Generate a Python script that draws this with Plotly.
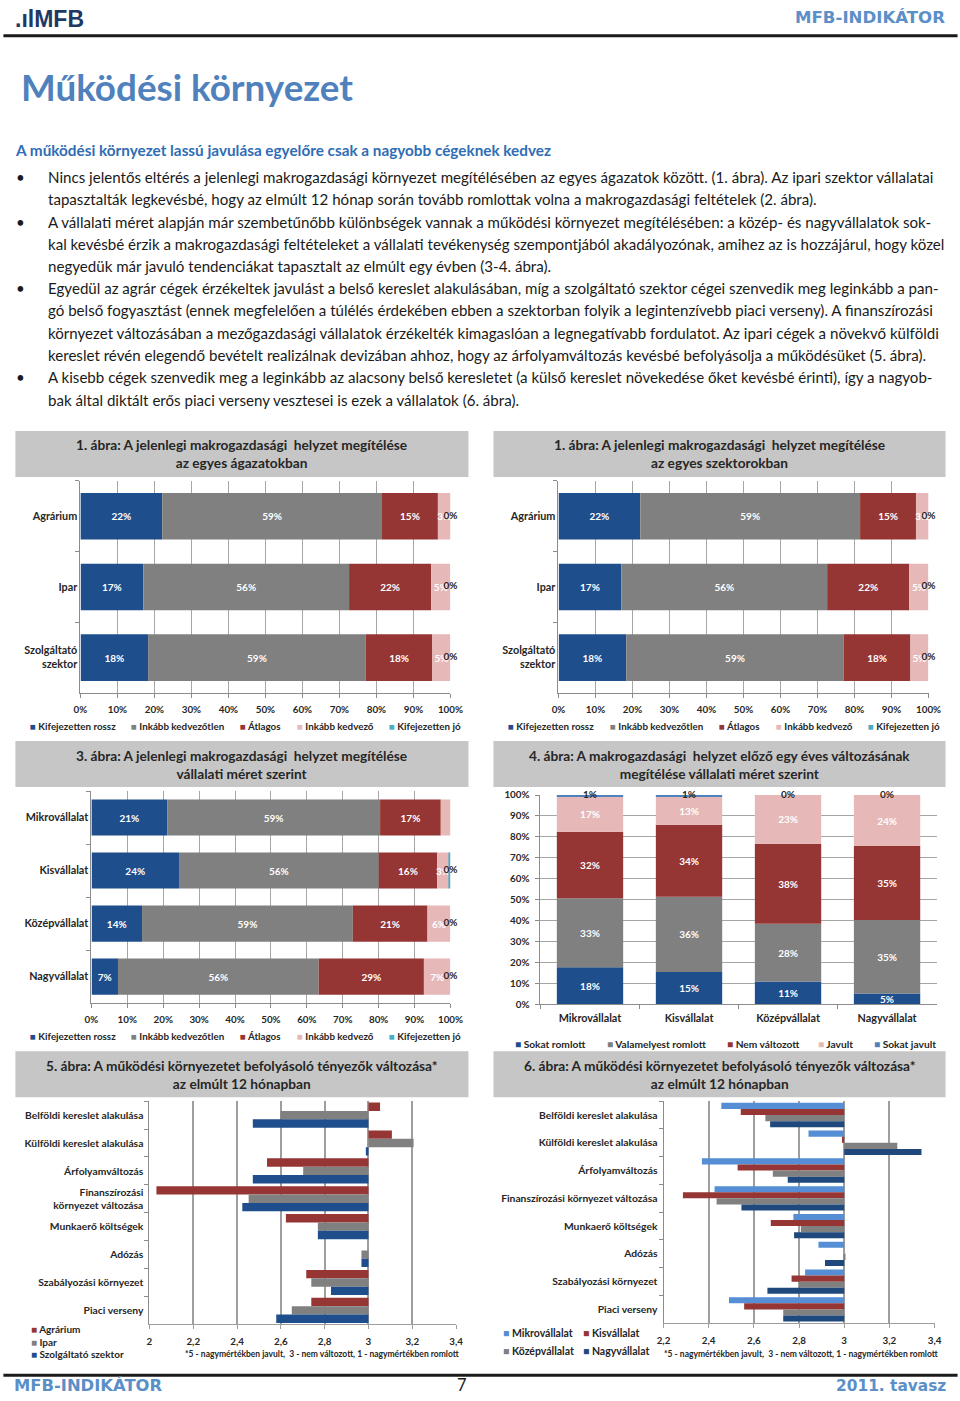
import plotly.graph_objects as go

W, H = 960, 1401
# Calibration between layout pixels and the photographed picture (measured
# from earlier renders): picture = S * layout + O.
SX, OX = 0.979, 6.6
SY, OY = 0.991, 6.3


def X(p):
    return ((p - OX) / SX) / W


def Y(p):
    return 1 - ((p - OY) / SY) / H


def XC(p, limit=959.5):
    return min((p - OX) / SX, limit) / W


SANS = "Lato, 'Open Sans', sans-serif"
VERD = "'DejaVu Sans', Verdana, sans-serif"
DARK = "#1a1a1a"
LABEL = "#262626"
GRID = "#a6a6a6"
AXIS = "#8c8c8c"
BOXFILL = "#c6c6c6"
STEEL = "#5b8fc7"

# ---------------- text ----------------
page_title = "Működési környezet"
page_subtitle = "A működési környezet lassú javulása egyelőre csak a nagyobb cégeknek kedvez"
body_lines = [
    "Nincs jelentős eltérés a jelenlegi makrogazdasági környezet megítélésében az egyes ágazatok között. (1. ábra). Az ipari szektor vállalatai",
    "tapasztalták legkevésbé, hogy az elmúlt 12 hónap során tovább romlottak volna a makrogazdasági feltételek (2. ábra).",
    "A vállalati méret alapján már szembetűnőbb különbségek vannak a működési környezet megítélésében: a közép- és nagyvállalatok sok-",
    "kal kevésbé érzik a makrogazdasági feltételeket a vállalati tevékenység szempontjából akadályozónak, amihez az is hozzájárul, hogy közel",
    "negyedük már javuló tendenciákat tapasztalt az elmúlt egy évben (3-4. ábra).",
    "Egyedül az agrár cégek érzékeltek javulást a belső kereslet alakulásában, míg a szolgáltató szektor cégei szenvedik meg leginkább a pan-",
    "gó belső fogyasztást (ennek megfelelően a túlélés érdekében ebben a szektorban folyik a legintenzívebb piaci verseny). A finanszírozási",
    "környezet változásában a mezőgazdasági vállalatok érzékelték kimagaslóan a legnegatívabb fordulatot. Az ipari cégek a növekvő külföldi",
    "kereslet révén elegendő bevételt realizálnak devizában ahhoz, hogy az árfolyamváltozás kevésbé befolyásolja a működésüket (5. ábra).",
    "A kisebb cégek szenvedik meg a leginkább az alacsony belső keresletet (a külső kereslet növekedése őket kevésbé érinti), így a nagyob-",
    "bak által diktált erős piaci verseny vesztesei is ezek a vállalatok (6. ábra).",
]
bullet_first_lines = [0, 2, 5, 9]

chart_titles = [
    "1. ábra: A jelenlegi makrogazdasági  helyzet megítélése<br>az egyes ágazatokban",
    "1. ábra: A jelenlegi makrogazdasági  helyzet megítélése<br>az egyes szektorokban",
    "3. ábra: A jelenlegi makrogazdasági  helyzet megítélése<br>vállalati méret szerint",
    "4. ábra: A makrogazdasági  helyzet előző egy éves változásának<br>megítélése vállalati méret szerint",
    "5. ábra: A működési környezetet befolyásoló tényezők változása*<br>az elmúlt 12 hónapban",
    "6. ábra: A működési környezetet befolyásoló tényezők változása*<br>az elmúlt 12 hónapban",
]
footnote = "*5 - nagymértékben javult,  3 - nem változott, 1 - nagymértékben romlott"

# ---------------- data ----------------
rating_names = ["Kifejezetten rossz", "Inkább kedvezőtlen", "Átlagos", "Inkább kedvező", "Kifejezetten jó"]
rating_colors = ["#1f4e8c", "#808080", "#963634", "#e6b9b8", "#4bacc6"]

sector_labels = ["Agrárium", "Ipar", "Szolgáltató<br>szektor"]
sector_rossz = [22.1, 17.0, 18.3]
sector_kedvezotlen = [59.4, 55.6, 58.8]
sector_atlagos = [15.1, 22.2, 18.0]
sector_kedvezo = [3.4, 5.2, 4.9]
sector_jo = [0.0, 0.0, 0.0]

size_labels = ["Mikrovállalat", "Kisvállalat", "Középvállalat", "Nagyvállalat"]
size_rossz = [21.1, 24.4, 14.1, 7.4]
size_kedvezotlen = [59.3, 55.6, 58.7, 55.9]
size_atlagos = [16.9, 16.3, 20.8, 29.3]
size_kedvezo = [2.7, 3.3, 6.4, 7.4]
size_jo = [0.0, 0.4, 0.0, 0.0]

change_names = ["Sokat romlott", "Valamelyest romlott", "Nem változott", "Javult", "Sokat javult"]
change_colors = ["#1f4e8c", "#808080", "#963634", "#e6b9b8", "#4f81bd"]
change_sokat_romlott = [17.6, 15.4, 10.8, 5.1]
change_valamelyest = [33.1, 36.0, 27.6, 35.1]
change_nem = [31.8, 34.4, 38.3, 35.4]
change_javult = [16.9, 13.4, 23.3, 24.4]
change_sokat_javult = [0.6, 0.8, 0.0, 0.0]

factor_labels_5 = ["Belföldi kereslet alakulása", "Külföldi kereslet alakulása", "Árfolyamváltozás",
                   "Finanszírozási<br>környezet változása", "Munkaerő költségek", "Adózás",
                   "Szabályozási környezet", "Piaci verseny"]
factor_labels_6 = ["Belföldi kereslet alakulása", "Külföldi kereslet alakulása", "Árfolyamváltozás",
                   "Finanszírozási környezet változása", "Munkaerő költségek", "Adózás",
                   "Szabályozási környezet", "Piaci verseny"]
neutral_value = 3.0

sector5_names = ["Agrárium", "Ipar", "Szolgáltató szektor"]
sector5_colors = ["#963634", "#808080", "#1f4e8c"]
f5_agrarium = [3.053, 3.107, 2.537, 2.032, 2.623, 3.000, 2.716, 2.739]
f5_ipar = [2.598, 3.206, 2.702, 2.453, 2.769, 2.968, 2.739, 2.650]
f5_szolg = [2.472, 2.988, 2.472, 2.424, 2.769, 2.968, 2.829, 2.579]

size6_names = ["Mikrovállalat", "Kisvállalat", "Középvállalat", "Nagyvállalat"]
size6_colors = ["#558ed5", "#963634", "#808080", "#1f497d"]
f6_mikro = [2.456, 2.842, 2.370, 2.426, 2.775, 2.886, 2.827, 2.490]
f6_kis = [2.542, 2.990, 2.528, 2.286, 2.675, 3.000, 2.767, 2.557]
f6_kozep = [2.651, 3.235, 2.684, 2.435, 2.808, 3.005, 2.800, 2.730]
f6_nagy = [2.672, 3.342, 2.750, 2.545, 2.778, 2.915, 2.660, 2.730]

# ---------------- figure ----------------
fig = go.Figure()


def axn(n, letter):
    return letter if n == 1 else f"{letter}{n}"


def add_stacked(n, cats, series, names, colors, width, horizontal):
    xa, ya = axn(n, "x"), axn(n, "y")
    base = [0.0] * len(cats)
    for i, (vals, name, col) in enumerate(zip(series, names, colors)):
        last = i == len(series) - 1
        labels = [f"{round(v)}%" for v in vals]
        kw = dict(x=vals, y=cats, orientation="h") if horizontal else dict(x=cats, y=vals)
        fig.add_trace(go.Bar(
            **kw, base=list(base), width=width, name=name,
            marker=dict(color=col, line=dict(width=0)),
            text=None if last else labels, textposition="inside", insidetextanchor="middle",
            textangle=0, constraintext="none",
            textfont=dict(color="white", size=10, family=SANS, weight="bold"),
            showlegend=False, hoverinfo="skip", xaxis=xa, yaxis=ya))
        base = [b + v for b, v in zip(base, vals)]
        if last:
            pos = dict(x=base, y=cats) if horizontal else dict(x=cats, y=base)
            fig.add_trace(go.Scatter(
                **pos, mode="text", text=labels, textposition="middle center",
                textfont=dict(color=LABEL, size=10, family=SANS, weight="bold"),
                cliponaxis=False, showlegend=False, hoverinfo="skip", xaxis=xa, yaxis=ya))


def add_grouped(n, cats, series, names, colors, width):
    xa, ya = axn(n, "x"), axn(n, "y")
    k = len(series)
    for i, (vals, name, col) in enumerate(zip(series, names, colors)):
        fig.add_trace(go.Bar(
            x=[v - neutral_value for v in vals], y=cats, base=neutral_value, orientation="h",
            width=width, offset=-k * width / 2 + i * width, name=name,
            marker=dict(color=col, line=dict(width=0)),
            showlegend=False, hoverinfo="skip", xaxis=xa, yaxis=ya))


sector_series = [sector_rossz, sector_kedvezotlen, sector_atlagos, sector_kedvezo, sector_jo]
add_stacked(1, sector_labels, sector_series, rating_names, rating_colors, 0.66, True)
add_stacked(2, sector_labels, sector_series, rating_names, rating_colors, 0.66, True)
add_stacked(3, size_labels, [size_rossz, size_kedvezotlen, size_atlagos, size_kedvezo, size_jo],
            rating_names, rating_colors, 0.68, True)
add_stacked(4, size_labels, [change_sokat_romlott, change_valamelyest, change_nem, change_javult,
                             change_sokat_javult], change_names, change_colors, 0.67, False)
add_grouped(5, factor_labels_5, [f5_agrarium, f5_ipar, f5_szolg], sector5_names, sector5_colors, 0.3)
add_grouped(6, factor_labels_6, [f6_mikro, f6_kis, f6_kozep, f6_nagy], size6_names, size6_colors, 0.22)

tickf = dict(family=SANS, size=9.8, color=LABEL, weight="bold")
catf = dict(family=SANS, size=10.8, color=LABEL, weight="bold")
catf_small = dict(family=SANS, size=10.3, color=LABEL, weight="bold")


def pct_value_axis(domain, anchor, **kw):
    d = dict(domain=domain, anchor=anchor, range=[0, 100], dtick=10, tick0=0, ticksuffix="%",
             showgrid=True, gridcolor=GRID, gridwidth=1, zeroline=False, showline=True,
             linecolor=AXIS, ticks="outside", ticklen=4, tickcolor=AXIS, tickfont=tickf,
             fixedrange=True)
    d.update(kw)
    return d


def cat_axis(domain, anchor, cats, font, reversed_=True, **kw):
    d = dict(domain=domain, anchor=anchor, type="category", categoryorder="array",
             categoryarray=cats, showline=True, linecolor=AXIS, ticks="outside",
             tickson="boundaries", ticklen=4, tickcolor=AXIS, showgrid=False, zeroline=False,
             tickfont=font, fixedrange=True)
    if reversed_:
        d["autorange"] = "reversed"
    d.update(kw)
    return d


def score_axis(domain, anchor, lo, hi):
    return dict(domain=domain, anchor=anchor, range=[lo, hi], dtick=0.2, tick0=2,
                showgrid=True, gridcolor="#9e9e9e", gridwidth=2, zeroline=False,
                showline=True, linecolor="#9e9e9e", ticks="outside", ticklen=4,
                tickcolor="#9e9e9e", tickfont=tickf, fixedrange=True, ticklabelstandoff=4)


layout_axes = {
    "xaxis": pct_value_axis([X(80), X(450)], "y", ticklabelstandoff=3),
    "yaxis": cat_axis([Y(692), Y(480)], "x", sector_labels, catf),
    "xaxis2": pct_value_axis([X(558), X(928)], "y2", ticklabelstandoff=3),
    "yaxis2": cat_axis([Y(692), Y(480)], "x2", sector_labels, catf),
    "xaxis3": pct_value_axis([X(91), X(450)], "y3", ticklabelstandoff=3),
    "yaxis3": cat_axis([Y(1002), Y(790)], "x3", size_labels, catf),
    "xaxis4": cat_axis([X(540), X(936)], "y4", size_labels, catf, reversed_=False, ticklabelstandoff=4),
    "yaxis4": pct_value_axis([Y(1003), Y(794)], "x4", ticklabelstandoff=4),
    "xaxis5": score_axis([X(149), X(455.6)], "y5", 2.0, 3.4),
    "yaxis5": cat_axis([Y(1323), Y(1100)], "x5", factor_labels_5, catf_small, ticklabelstandoff=3),
    "xaxis6": score_axis([X(663), X(934)], "y6", 2.2, 3.4),
    "yaxis6": cat_axis([Y(1322), Y(1100)], "x6", factor_labels_6, catf_small, ticklabelstandoff=3),
}

# ---------------- annotations ----------------
annotations = []


def ann(text, x, y, size, color=DARK, family=SANS, bold=False, xanchor="left", yanchor="middle",
        xpaper=None, ypaper=None, pad=1):
    annotations.append(dict(text=text, x=X(x) if xpaper is None else xpaper,
                            y=Y(y) if ypaper is None else ypaper, xref="paper", yref="paper",
                            xanchor=xanchor, yanchor=yanchor, showarrow=False, borderpad=pad,
                            font=dict(family=family, size=size, color=color,
                                      weight="bold" if bold else "normal")))


# header / footer
ann("<b>.ıl</b>MFB", 13, 18, 23, color="#1f3864", family="'Liberation Sans', Arial, sans-serif", bold=True)
ann("MFB-INDIKÁTOR", 957, 17, 16.6, color=STEEL, family=VERD, bold=True, xanchor="right",
    xpaper=XC(957))
ann(page_title, 19, 86, 36.8, color="#4f81bd", bold=True)
ann(page_subtitle, 13, 149, 15.3, color="#2f6db5", bold=True)
ann("MFB-INDIKÁTOR", 13, 1388, 16.4, color=STEEL, family=VERD, bold=True,
    yanchor="bottom", ypaper=0.0, pad=0)
ann("7", 456, 1392, 16.5, color=DARK, yanchor="bottom", ypaper=0.0, pad=0)
ann("2011. tavasz", 952, 1388, 15.4, color=STEEL, family=VERD, bold=True, xanchor="right",
    xpaper=XC(952), yanchor="bottom", ypaper=0.0, pad=0)

# body text
line_y = [176, 198, 221, 243, 265, 287, 309, 332, 354, 376, 399]
for i, (line, yy) in enumerate(zip(body_lines, line_y)):
    ann(line, 46, yy, 15.1, color=DARK)
    if i in bullet_first_lines:
        ann("•", 20, yy, 15.1, color=DARK, xanchor="center")

# chart title boxes
shapes = []
boxes = [(15, 468, 430, 476), (493, 945, 430, 476), (15, 468, 740, 786),
         (493, 945, 740, 786), (15, 468, 1050, 1096), (493, 945, 1050, 1096)]
for (x0, x1, y0, y1), title in zip(boxes, chart_titles):
    shapes.append(dict(type="rect", xref="paper", yref="paper", x0=X(x0), x1=X(x1),
                       y0=Y(y1), y1=Y(y0), fillcolor=BOXFILL, line=dict(width=0), layer="below"))
    annotations.append(dict(text=title, x=X((x0 + x1) / 2), y=Y((y0 + y1) / 2), xref="paper",
                            yref="paper", xanchor="center", yanchor="middle", showarrow=False,
                            align="center",
                            font=dict(family=SANS, size=13.7, color=LABEL, weight="bold")))

for y_line in (35, 1374):
    shapes.append(dict(type="line", xref="paper", yref="paper", x0=X(3), x1=X(957),
                       y0=Y(y_line), y1=Y(y_line), line=dict(color=DARK, width=3)))


# legends
def legend_items(names, colors, xs, ys, size):
    for name, col, x, y in zip(names, colors, xs, ys):
        ann(f"<span style='color:{col}'>■</span> {name}", x, y, size, color=LABEL, bold=True)


legend_x_left = [28, 129, 238, 295, 387]
legend_items(rating_names, rating_colors, legend_x_left, [725] * 5, 9.8)
legend_items(rating_names, rating_colors, [x + 478 for x in legend_x_left], [725] * 5, 9.8)
legend_items(rating_names, rating_colors, legend_x_left, [1035] * 5, 9.8)
legend_items(change_names, change_colors, [513, 604, 724, 815, 871], [1043] * 5, 10.2)
legend_items(sector5_names, sector5_colors, [29, 29, 29], [1328, 1341, 1353], 10)
legend_items(size6_names, size6_colors, [501, 581, 501, 581], [1332, 1332, 1350, 1350], 10.5)

ann(footnote, 322, 1353, 8.5, color=LABEL, bold=True, xanchor="center")
ann(footnote, 800, 1353, 8.5, color=LABEL, bold=True, xanchor="center")

fig.update_layout(
    width=W, height=H, margin=dict(l=0, r=0, t=0, b=0, pad=0),
    paper_bgcolor="white", plot_bgcolor="white", barmode="overlay",
    separators=", ", showlegend=False,
    uniformtext=dict(minsize=10, mode="show"),
    font=dict(family=SANS, color=LABEL),
    annotations=annotations, shapes=shapes,
    **layout_axes,
)

fig.write_html("out.html", config={"displayModeBar": False},
               post_script="document.body.style.margin='0';document.body.style.overflow='hidden';")
